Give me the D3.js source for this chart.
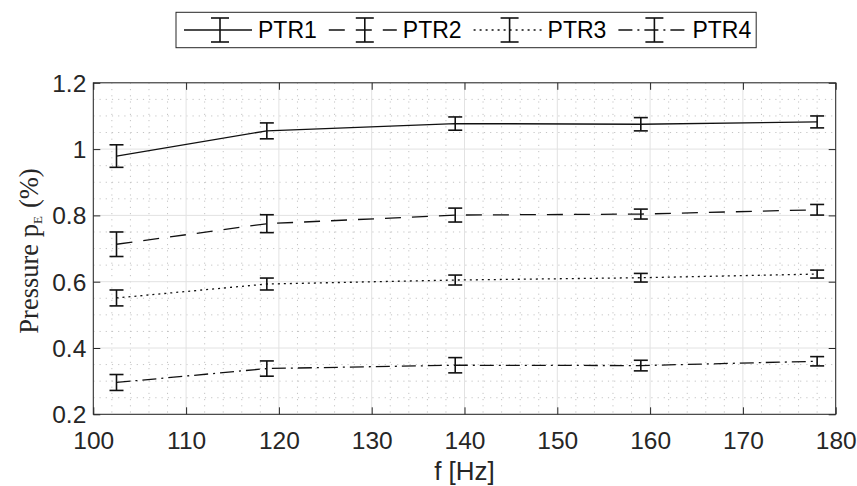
<!DOCTYPE html>
<html>
<head>
<meta charset="utf-8">
<script src="https://cdn.jsdelivr.net/npm/d3@7"></script>
<style>
  html, body { margin: 0; padding: 0; background: #ffffff; }
  svg { display: block; }
</style>
</head>
<body>
<svg id="chart" width="857" height="486"></svg>
<script>
// ---- data ----
const freq = [102.5, 118.7, 139.0, 159.0, 178.0];
const seriesNames = ["PTR1", "PTR2", "PTR3", "PTR4"];
const ptr1 = [0.979, 1.055, 1.077, 1.075, 1.082];
const ptr1Err = [0.034, 0.024, 0.020, 0.020, 0.018];
const ptr2 = [0.713, 0.775, 0.801, 0.804, 0.817];
const ptr2Err = [0.037, 0.027, 0.021, 0.015, 0.016];
const ptr3 = [0.551, 0.593, 0.605, 0.612, 0.623];
const ptr3Err = [0.024, 0.018, 0.015, 0.013, 0.012];
const ptr4 = [0.296, 0.338, 0.348, 0.347, 0.360];
const ptr4Err = [0.024, 0.023, 0.023, 0.016, 0.014];
const xTicks = [100, 110, 120, 130, 140, 150, 160, 170, 180];
const yTicks = [0.2, 0.4, 0.6, 0.8, 1.0, 1.2];
const yTickLabels = ["0.2", "0.4", "0.6", "0.8", "1", "1.2"];
const xMinor = d3.range(100, 180.001, 2);
const yMinor = d3.range(0.2, 1.2001, 0.05);

const seriesVals = [ptr1, ptr2, ptr3, ptr4];
const seriesErr = [ptr1Err, ptr2Err, ptr3Err, ptr4Err];
const dashes = [null, "16,11", "2,4", "14,5,2,5"];

const svg = d3.select("#chart");
const L = 93.3, R = 835.7, T = 82.8, B = 414.3;
const x = d3.scaleLinear().domain([100, 180]).range([L, R]);
const y = d3.scaleLinear().domain([0.2, 1.2]).range([B, T]);
const axisColor = "#262626";

// minor grid
const g = svg.append("g");
g.selectAll(".mx").data(xMinor.filter(v => !xTicks.includes(Math.round(v)))).enter().append("line")
  .attr("x1", d => x(d)).attr("x2", d => x(d)).attr("y1", T).attr("y2", B)
  .attr("stroke", "#c4c4c4").attr("stroke-width", 1).attr("stroke-dasharray", "1.2,5");
g.selectAll(".my").data(yMinor.filter(v => Math.abs(Math.round(v * 5) - v * 5) > 1e-6)).enter().append("line")
  .attr("x1", L).attr("x2", R).attr("y1", d => y(d)).attr("y2", d => y(d))
  .attr("stroke", "#c4c4c4").attr("stroke-width", 1).attr("stroke-dasharray", "1.2,5");
// major grid
g.selectAll(".gx").data(xTicks).enter().append("line")
  .attr("x1", d => x(d)).attr("x2", d => x(d)).attr("y1", T).attr("y2", B)
  .attr("stroke", "#e2e2e2").attr("stroke-width", 1);
g.selectAll(".gy").data(yTicks).enter().append("line")
  .attr("x1", L).attr("x2", R).attr("y1", d => y(d)).attr("y2", d => y(d))
  .attr("stroke", "#e2e2e2").attr("stroke-width", 1);

// axes with inward ticks on all sides
const tl = 7;
const fontSans = "Liberation Sans, Arial, sans-serif";
const axB = svg.append("g").attr("transform", `translate(0,${B})`)
  .call(d3.axisBottom(x).tickValues(xTicks).tickSizeInner(-tl).tickSizeOuter(0).tickPadding(14));
const axT = svg.append("g").attr("transform", `translate(0,${T})`)
  .call(d3.axisTop(x).tickValues(xTicks).tickSizeInner(-tl).tickSizeOuter(0).tickFormat(""));
const axL = svg.append("g").attr("transform", `translate(${L},0)`)
  .call(d3.axisLeft(y).tickValues(yTicks).tickSizeInner(-tl).tickSizeOuter(0).tickPadding(7)
    .tickFormat((d, i) => yTickLabels[i]));
const axR = svg.append("g").attr("transform", `translate(${R},0)`)
  .call(d3.axisRight(y).tickValues(yTicks).tickSizeInner(-tl).tickSizeOuter(0).tickFormat(""));
[axB, axT, axL, axR].forEach(a => {
  a.select(".domain").remove();
  a.selectAll(".tick line").attr("stroke", axisColor).attr("stroke-width", 1);
  a.selectAll(".tick text").attr("fill", axisColor).style("font-family", fontSans).style("font-size", "24.5px");
});
axB.selectAll(".tick text").attr("dy", null).attr("y", 35);
axL.selectAll(".tick text").attr("dy", "0.35em");
svg.append("rect").attr("x", L).attr("y", T).attr("width", R - L).attr("height", B - T)
  .attr("fill", "none").attr("stroke", axisColor).attr("stroke-width", 1);

// data
const line = d3.line().x((d, i) => x(freq[i])).y(d => y(d));
const cap = 7;
seriesVals.forEach((vals, s) => {
  const p = svg.append("path").datum(vals).attr("d", line)
    .attr("fill", "none").attr("stroke", "#111").attr("stroke-width", 1.3);
  if (dashes[s]) p.attr("stroke-dasharray", dashes[s]);
  const eb = svg.append("g");
  vals.forEach((v, i) => {
    const cx = x(freq[i]), y1 = y(v + seriesErr[s][i]), y2 = y(v - seriesErr[s][i]);
    eb.append("line").attr("x1", cx).attr("x2", cx).attr("y1", y1).attr("y2", y2);
    eb.append("line").attr("x1", cx - cap).attr("x2", cx + cap).attr("y1", y1).attr("y2", y1);
    eb.append("line").attr("x1", cx - cap).attr("x2", cx + cap).attr("y1", y2).attr("y2", y2);
  });
  eb.selectAll("line").attr("stroke", "#111").attr("stroke-width", 1.6);
});

// axis labels
svg.append("text").attr("x", (L + R) / 2).attr("y", 480).attr("text-anchor", "middle")
  .style("font-family", fontSans).style("font-size", "26px").attr("fill", axisColor).text("f [Hz]");
const yl = svg.append("text").attr("transform", "translate(38,251) rotate(-90)").attr("text-anchor", "middle")
  .style("font-family", "Liberation Serif, Times New Roman, serif").style("font-size", "26.5px").attr("fill", axisColor);
yl.append("tspan").text("Pressure p");
yl.append("tspan").attr("dy", 4).style("font-size", "13px").text("E");
yl.append("tspan").attr("dy", -4).attr("dx", 8).text("(%)");

// legend
const lg = svg.append("g");
const lgBox = lg.append("rect").attr("y", 12.3).attr("height", 35.4).attr("x", 176)
  .attr("fill", "#fff").attr("stroke", axisColor).attr("stroke-width", 1);
let x0 = 184;
const ly = 30;
seriesNames.forEach((name, s) => {
  const ln = lg.append("line").attr("x1", x0).attr("x2", x0 + 68).attr("y1", ly).attr("y2", ly)
    .attr("stroke", "#111").attr("stroke-width", 1.3);
  if (dashes[s]) ln.attr("stroke-dasharray", dashes[s]);
  const bx = x0 + 36;
  const e = lg.append("g");
  e.append("line").attr("x1", bx).attr("x2", bx).attr("y1", 18).attr("y2", 42);
  e.append("line").attr("x1", bx - 9).attr("x2", bx + 9).attr("y1", 18).attr("y2", 18);
  e.append("line").attr("x1", bx - 9).attr("x2", bx + 9).attr("y1", 42).attr("y2", 42);
  e.selectAll("line").attr("stroke", "#111").attr("stroke-width", 1.6);
  const t = lg.append("text").attr("x", x0 + 74).attr("y", ly).attr("dy", "0.36em")
    .style("font-family", fontSans).style("font-size", "23px").attr("fill", "#000").text(name);
  const w = t.node().getComputedTextLength();
  x0 = x0 + 74 + w + 12;
});
lgBox.attr("width", x0 - 7 - 176);
</script>
</body>
</html>
